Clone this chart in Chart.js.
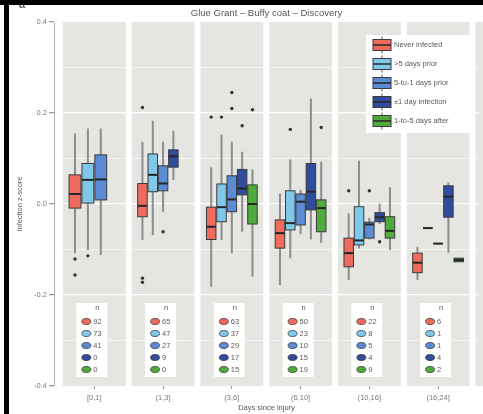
<!DOCTYPE html>
<html>
<head>
<meta charset="utf-8">
<script src="https://cdn.jsdelivr.net/npm/chart.js@4.4.1/dist/chart.umd.min.js"></script>
<style>
  html, body { margin: 0; padding: 0; background: #fff; overflow: hidden; }
  canvas { display: block; }
</style>
</head>
<body>
<canvas id="chart" width="483" height="414"></canvas>
<script>
// ---- data -------------------------------------------------------------
const categories = ['[0,1]', '(1,3]', '(3,6]', '(6,10]', '(10,16]', '(16,24]'];
const seriesNames = ['Never infected', '>5 days prior', '5-to-1 days prior', '\u00b11 day infection', '1-to-5 days after'];
const seriesColors = ['#ee6b5d', '#80c8ea', '#5b8bd2', '#2f4d9c', '#4fab3c'];

// [lower whisker, Q1, median, Q3, upper whisker] per time window; null where n = 0
const neverInfected = [
  [-0.108, -0.009,  0.022,  0.064,  0.155],
  [-0.079, -0.028, -0.004,  0.045,  0.137],
  [-0.182, -0.078, -0.050, -0.007,  0.081],
  [-0.178, -0.097, -0.064, -0.035,  0.023],
  [-0.167, -0.138, -0.108, -0.075, -0.021],
  [-0.167, -0.151, -0.129, -0.108, -0.094]
];
const over5Prior = [
  [-0.101,  0.002,  0.053,  0.089,  0.166],
  [-0.068,  0.027,  0.064,  0.110,  0.183],
  [-0.079, -0.039, -0.007,  0.044,  0.152],
  [-0.119, -0.057, -0.042,  0.029,  0.098],
  [-0.098, -0.090, -0.080, -0.006,  0.095],
  [-0.053, -0.053, -0.053, -0.053, -0.053]
];
const fiveTo1Prior = [
  [-0.112,  0.009,  0.054,  0.108,  0.166],
  [-0.017,  0.029,  0.045,  0.084,  0.137],
  [-0.108, -0.017,  0.010,  0.062,  0.137],
  [-0.066, -0.046,  0.005,  0.022,  0.031],
  [-0.078, -0.075, -0.045, -0.040, -0.030],
  [-0.087, -0.087, -0.087, -0.087, -0.087]
];
const within1Day = [
  null,
  [ 0.053,  0.081,  0.105,  0.119,  0.161],
  [-0.061,  0.020,  0.034,  0.076,  0.115],
  [-0.078, -0.013,  0.027,  0.089,  0.232],
  [-0.044, -0.039, -0.029, -0.019,  0.001],
  [-0.107, -0.029,  0.016,  0.040,  0.047]
];
const after1to5 = [
  null,
  null,
  [-0.160, -0.044,  0.000,  0.042,  0.076],
  [-0.085, -0.061, -0.009,  0.009,  0.093],
  [-0.101, -0.075, -0.059, -0.028,  0.037],
  [-0.127, -0.127, -0.123, -0.119, -0.119]
];

// outliers: [time window index, z-score]
const outNever   = [[0, -0.121], [0, -0.156], [1, 0.212], [1, -0.163], [1, -0.172], [2, 0.191], [4, 0.029]];
const outOver5   = [[0, -0.114], [2, 0.191], [3, 0.164]];
const outFiveTo1 = [[1, -0.061], [2, 0.245], [2, 0.210], [4, 0.029]];
const outWithin1 = [[2, 0.172], [4, -0.083]];
const outAfter   = [[2, 0.207], [3, 0.168]];

// sample sizes per time window
const nNever   = [92, 65, 63, 50, 22, 6];
const nOver5   = [73, 47, 37, 23, 8, 1];
const nFiveTo1 = [41, 27, 29, 10, 5, 1];
const nWithin1 = [0, 9, 17, 15, 4, 4];
const nAfter   = [0, 0, 15, 19, 9, 2];

const yMajorTicks = [-0.4, -0.2, 0.0, 0.2, 0.4];
const yMinorTicks = [-0.3, -0.1, 0.1, 0.3];

const summaries = [neverInfected, over5Prior, fiveTo1Prior, within1Day, after1to5];
const outliers  = [outNever, outOver5, outFiveTo1, outWithin1, outAfter];
const counts    = [nNever, nOver5, nFiveTo1, nWithin1, nAfter];

// ---- layout -----------------------------------------------------------
const X_MIN = -0.5865, X_MAX = 5.595;   // one unit per facet
const PANEL_HALF = 0.457;               // half width of a facet panel
const DODGE = 0.75;                     // total dodge width inside a facet
const dodgeSlots = [4, 5, 5, 5, 5, 5];  // groups reserved in each facet
const BOX_FRAC = 0.92;
const PANEL_BG = '#e5e5e2';
const WHISKER = '#8d8d8d';
const OUTLINE = '#3a3a3a';
const TEXT = '#5a5a5a';
const FONT = "'Liberation Sans', Arial, sans-serif";

function slot(panel, s) {
  const n = dodgeSlots[panel];
  const w = DODGE / n;
  return { x: panel + (s - (n - 1) / 2) * w, w: w * BOX_FRAC };
}

Chart.defaults.font.family = FONT;

// facet backgrounds (the next facet column starts at the right edge)
const panelPlugin = {
  id: 'panels',
  beforeDraw(chart) {
    const { ctx, chartArea: ca, scales: { x } } = chart;
    ctx.save();
    ctx.fillStyle = '#fff';
    ctx.fillRect(0, 0, chart.width, chart.height);
    ctx.fillStyle = PANEL_BG;
    for (let i = 0; i <= categories.length; i++) {
      const l = x.getPixelForValue(i - PANEL_HALF);
      const r = x.getPixelForValue(i + PANEL_HALF);
      ctx.fillRect(l, ca.top, r - l, ca.bottom - ca.top);
    }
    ctx.restore();
  }
};

// box-and-whisker glyphs
const boxPlugin = {
  id: 'boxes',
  beforeDatasetsDraw(chart) {
    const { ctx, scales: { x, y } } = chart;
    ctx.save();
    summaries.forEach((series, s) => {
      series.forEach((q, p) => {
        if (!q) return;
        const sl = slot(p, s);
        const cx = x.getPixelForValue(sl.x);
        const l = x.getPixelForValue(sl.x - sl.w / 2);
        const r = x.getPixelForValue(sl.x + sl.w / 2);
        const [lo, q1, med, q3, hi] = q.map(v => y.getPixelForValue(v));
        ctx.strokeStyle = WHISKER;
        ctx.lineWidth = 2;
        ctx.beginPath();
        ctx.moveTo(cx, hi); ctx.lineTo(cx, q3);
        ctx.moveTo(cx, q1); ctx.lineTo(cx, lo);
        ctx.stroke();
        ctx.fillStyle = seriesColors[s];
        ctx.fillRect(l, q3, r - l, q1 - q3);
        ctx.strokeStyle = OUTLINE;
        ctx.lineWidth = 1;
        ctx.strokeRect(l, q3, r - l, q1 - q3);
        ctx.strokeStyle = '#262626';
        ctx.lineWidth = 2;
        ctx.beginPath();
        ctx.moveTo(l, med); ctx.lineTo(r, med);
        ctx.stroke();
      });
    });
    ctx.restore();
  }
};

// per-facet sample-size tables and the group legend
const overlayPlugin = {
  id: 'overlays',
  afterDatasetsDraw(chart) {
    const { ctx, chartArea: ca, scales: { x } } = chart;
    ctx.save();
    ctx.font = '7.5px ' + FONT;
    ctx.textBaseline = 'middle';
    categories.forEach((c, p) => {
      const cx = x.getPixelForValue(p);
      const bottom = ca.bottom - 9;
      const top = bottom - 74;
      ctx.fillStyle = '#fff';
      ctx.fillRect(cx - 18, top, 31, bottom - top);
      ctx.fillStyle = TEXT;
      ctx.textAlign = 'center';
      ctx.fillText('n', cx + 3, top + 4.5);
      counts.forEach((arr, s) => {
        const ry = top + 18.5 + 12 * s;
        ctx.beginPath();
        ctx.ellipse(cx - 8, ry, 4.5, 3, 0, 0, Math.PI * 2);
        ctx.fillStyle = seriesColors[s];
        ctx.fill();
        ctx.strokeStyle = OUTLINE;
        ctx.lineWidth = 0.8;
        ctx.stroke();
        ctx.fillStyle = TEXT;
        ctx.textAlign = 'left';
        ctx.fillText(String(arr[p]), cx - 1, ry);
      });
    });

    // legend
    const lx = ca.right - 113, ly = ca.top + 13;
    ctx.fillStyle = '#fff';
    ctx.fillRect(lx, ly, 108, 98);
    seriesNames.forEach((name, s) => {
      const cy = ly + 10 + 19 * s;
      const kl = lx + 7, kr = lx + 25, kc = (kl + kr) / 2;
      ctx.strokeStyle = WHISKER;
      ctx.lineWidth = 1.5;
      ctx.beginPath();
      ctx.moveTo(kc, cy - 8.5); ctx.lineTo(kc, cy - 5.5);
      ctx.moveTo(kc, cy + 5.5); ctx.lineTo(kc, cy + 8.5);
      ctx.stroke();
      ctx.fillStyle = seriesColors[s];
      ctx.fillRect(kl, cy - 5.5, kr - kl, 11);
      ctx.strokeStyle = OUTLINE;
      ctx.lineWidth = 1;
      ctx.strokeRect(kl, cy - 5.5, kr - kl, 11);
      ctx.strokeStyle = '#262626';
      ctx.lineWidth = 1.5;
      ctx.beginPath();
      ctx.moveTo(kl, cy); ctx.lineTo(kr, cy);
      ctx.stroke();
      ctx.fillStyle = TEXT;
      ctx.textAlign = 'left';
      ctx.fillText(name, lx + 28, cy);
    });
    ctx.restore();
  },
  afterDraw(chart) {
    const { ctx } = chart;
    ctx.save();
    ctx.fillStyle = '#555';
    ctx.font = 'bold 11px ' + FONT;
    ctx.textAlign = 'center';
    ctx.textBaseline = 'alphabetic';
    ctx.fillText('a', 22, 8);
    ctx.fillStyle = '#000';
    ctx.fillRect(0, 0, chart.width, 5);
    ctx.fillRect(4, 0, 5, chart.height);
    ctx.restore();
  }
};

const datasets = outliers.map((list, s) => ({
  label: seriesNames[s],
  data: list.map(([p, v]) => ({ x: slot(p, s).x, y: v })),
  pointRadius: 1.7,
  pointBackgroundColor: '#333',
  pointBorderWidth: 0
}));

new Chart(document.getElementById('chart'), {
  type: 'scatter',
  data: { datasets },
  options: {
    responsive: false,
    animation: false,
    devicePixelRatio: 1,
    events: [],
    layout: { padding: { left: 10, top: 5, right: 0, bottom: 0 } },
    plugins: {
      legend: { display: false },
      tooltip: { enabled: false },
      title: {
        display: true,
        fullSize: false,
        text: 'Glue Grant \u2013 Buffy coat \u2013 Discovery',
        color: '#555',
        font: { size: 9.5, weight: 'normal' },
        padding: { top: 3, bottom: 2.6 }
      }
    },
    scales: {
      x: {
        type: 'linear',
        min: X_MIN,
        max: X_MAX,
        afterBuildTicks: s => { s.ticks = categories.map((c, i) => ({ value: i })); },
        afterFit: s => { s.height = 28; },
        ticks: {
          autoSkip: false,
          maxRotation: 0,
          padding: 4,
          color: '#7a7a7a',
          font: { size: 7.5 },
          callback: (v, i) => categories[i]
        },
        grid: { drawOnChartArea: false, drawTicks: true, tickLength: 3, tickColor: '#999' },
        border: { display: false },
        title: {
          display: true,
          text: 'Days since injury',
          color: '#555',
          font: { size: 7.5 },
          padding: { top: 0, bottom: 1.5 }
        }
      },
      y: {
        min: -0.4,
        max: 0.4,
        afterBuildTicks: s => {
          s.ticks = yMajorTicks.concat(yMinorTicks).sort((a, b) => a - b).map(v => ({ value: v }));
        },
        afterFit: s => { s.width = 44; },
        ticks: {
          autoSkip: false,
          padding: 2,
          color: '#7a7a7a',
          font: { size: 7.5 },
          callback: v => {
            const m = yMajorTicks.find(t => Math.abs(t - v) < 1e-9);
            return m === undefined ? '' : m.toFixed(1);
          }
        },
        grid: {
          tickLength: 5,
          color: c => (Math.abs(Math.abs(c.tick.value) - 0.4) < 1e-9 ? 'rgba(0,0,0,0)' : '#ffffff'),
          lineWidth: c => (yMajorTicks.some(t => Math.abs(t - c.tick.value) < 1e-9) ? 1.3 : 0.6),
          tickColor: c => (yMajorTicks.some(t => Math.abs(t - c.tick.value) < 1e-9) ? '#999' : 'rgba(0,0,0,0)')
        },
        border: { display: true, color: '#b5b5b5', width: 1 },
        title: {
          display: true,
          text: 'Infection z-score',
          color: '#555',
          font: { size: 7.5 },
          padding: { top: 5.5, bottom: 0 }
        }
      }
    }
  },
  plugins: [panelPlugin, boxPlugin, overlayPlugin]
});
</script>
</body>
</html>
